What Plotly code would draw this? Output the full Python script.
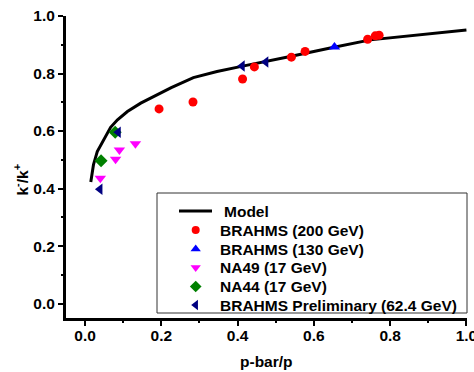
import plotly.graph_objects as go

# Model curve
model_x = [0.015, 0.022, 0.032, 0.050, 0.067, 0.085, 0.111, 0.146, 0.190, 0.226,
           0.284, 0.346, 0.407, 0.459, 0.541, 0.643, 0.748, 1.0]
model_y = [0.423, 0.483, 0.529, 0.575, 0.613, 0.639, 0.668, 0.697, 0.726, 0.751,
           0.786, 0.807, 0.824, 0.839, 0.860, 0.889, 0.917, 0.951]

# BRAHMS (200 GeV)
b200_x = [0.194, 0.283, 0.413, 0.444, 0.541, 0.577, 0.741, 0.761, 0.771]
b200_y = [0.677, 0.701, 0.781, 0.823, 0.857, 0.877, 0.919, 0.931, 0.933]

# BRAHMS (130 GeV)
b130_x = [0.654]
b130_y = [0.892]

# NA49 (17 GeV)
na49_x = [0.040, 0.080, 0.090, 0.132]
na49_y = [0.436, 0.502, 0.534, 0.556]

# NA44 (17 GeV)
na44_x = [0.042, 0.079]
na44_y = [0.497, 0.596]

# BRAHMS Preliminary (62.4 GeV)
bpre_x = [0.039, 0.087, 0.412, 0.474]
bpre_y = [0.398, 0.596, 0.826, 0.840]

series_names = ["Model", "BRAHMS (200 GeV)", "BRAHMS (130 GeV)", "NA49 (17 GeV)",
                "NA44 (17 GeV)", "BRAHMS Preliminary (62.4 GeV)"]

FONT = "Liberation Sans, Arial, sans-serif"
FS = 15.5

styles = [
    None,
    dict(symbol="circle", color="#ff0000", size=9),
    dict(symbol="triangle-up", color="#0000ff", size=10),
    dict(symbol="triangle-down", color="#ff00ff", size=10),
    dict(symbol="diamond", color="#008000", size=10),
    dict(symbol="triangle-left", color="#000080", size=10),
]

fig = go.Figure()
fig.add_trace(go.Scatter(x=model_x, y=model_y, mode="lines", name=series_names[0],
                         line=dict(color="black", width=3), showlegend=False))
for xs, ys, nm, st in [(b200_x, b200_y, series_names[1], styles[1]),
                       (b130_x, b130_y, series_names[2], styles[2]),
                       (na49_x, na49_y, series_names[3], styles[3]),
                       (na44_x, na44_y, series_names[4], styles[4]),
                       (bpre_x, bpre_y, series_names[5], styles[5])]:
    fig.add_trace(go.Scatter(x=xs, y=ys, mode="markers", name=nm, marker=st, showlegend=False))

# ---- hand-built legend (pixel-based overlay axes) ----
L, R, T, B = 66, 467, 16, 318
box = dict(x0=157, x1=467, y0=193, y1=313)
row_y = [211, 230, 249, 267.5, 286.5, 305]
sym_x = 195.7
text_x = [222, 217.5, 217.5, 217.5, 217.5, 217.5]

def px(xp):
    return (xp - L) / (R - L)

def py(yp):
    return (B - yp) / (B - T)

shapes = [dict(type="rect", xref="paper", yref="paper",
               x0=px(box["x0"]), x1=px(box["x1"]), y0=py(box["y1"]), y1=py(box["y0"]),
               line=dict(color="#333333", width=1), fillcolor="white", layer="below"),
          dict(type="line", xref="paper", yref="paper",
               x0=px(179), x1=px(212), y0=py(row_y[0]), y1=py(row_y[0]),
               line=dict(color="black", width=3), layer="above")]

for i in range(1, 6):
    fig.add_trace(go.Scatter(x=[sym_x], y=[row_y[i]], mode="markers", xaxis="x2", yaxis="y2",
                             marker=dict(styles[i], size=styles[i]["size"] - 1),
                             showlegend=False, hoverinfo="skip", cliponaxis=False))

annotations = []
for i, nm in enumerate(series_names):
    annotations.append(dict(text=nm, xref="paper", yref="paper", x=px(text_x[i]), y=py(row_y[i]),
                            xanchor="left", yanchor="middle", showarrow=False,
                            font=dict(family=FONT, size=FS, color="black", weight="bold")))

annotations += [
    dict(text="k<sup>-</sup>/k<sup>+</sup>", xref="paper", yref="paper",
         x=px(21.5), y=py(180), xanchor="center", yanchor="middle", textangle=-90,
         showarrow=False, font=dict(family=FONT, size=FS, color="black", weight="bold")),
    dict(text="p-bar/p", xref="paper", yref="paper",
         x=0.5, y=py(361), xanchor="center", yanchor="middle",
         showarrow=False, font=dict(family=FONT, size=FS, color="black", weight="bold")),
]

axis_common = dict(
    showline=True, linecolor="black", linewidth=3, mirror=False,
    showgrid=False, zeroline=False, automargin=False,
    ticks="outside", ticklen=5, tickwidth=2, tickcolor="black",
    tickfont=dict(family=FONT, size=FS, color="black", weight="bold"),
    ticklabeloverflow="allow",
    minor=dict(ticks="outside", ticklen=2, tickwidth=2, tickcolor="black", dtick=0.1),
)

fig.update_layout(
    width=474, height=372,
    margin=dict(l=L, r=474 - R, t=T, b=372 - B, autoexpand=False),
    paper_bgcolor="white", plot_bgcolor="white",
    xaxis=dict(range=[-0.05, 1.0015], dtick=0.2, tick0=0, tickformat=".1f",
               ticklabelstandoff=-4, **axis_common),
    yaxis=dict(range=[-0.05, 1.0], dtick=0.2, tick0=0, tickformat=".1f", **axis_common),
    xaxis2=dict(overlaying="x", range=[L, R], visible=False, fixedrange=True),
    yaxis2=dict(overlaying="y", range=[B, T], visible=False, fixedrange=True),
    showlegend=False,
    shapes=shapes,
    annotations=annotations,
)

fig.write_html("out.html")
